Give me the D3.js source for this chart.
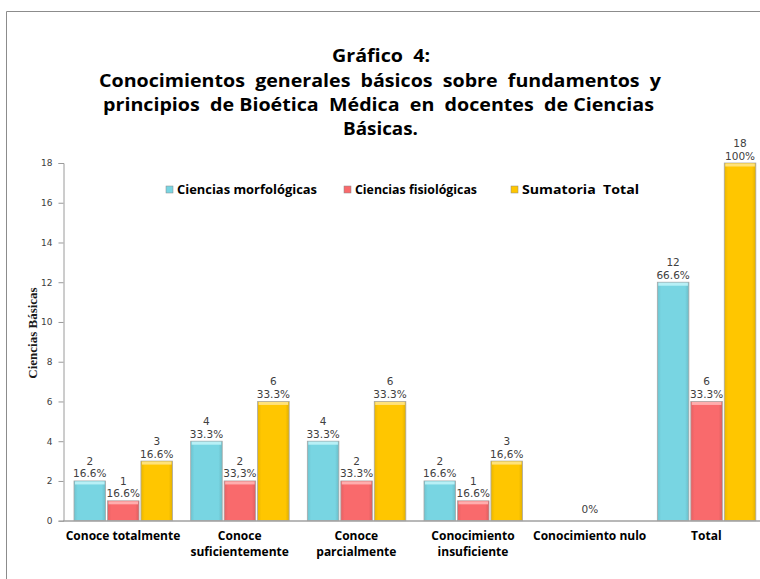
<!DOCTYPE html>
<html><head><meta charset="utf-8">
<script src="https://cdn.jsdelivr.net/npm/d3@7"></script>
<style>body{margin:0;background:#fff}svg{display:block}</style>
</head><body>
<script>
const categories = [["Conoce totalmente"],["Conoce","suficientemente"],["Conoce","parcialmente"],["Conocimiento","insuficiente"],["Conocimiento nulo"],["Total"]];
const seriesNames = ["Ciencias morfológicas","Ciencias fisiológicas","Sumatoria  Total"];
const morfologicas = [2,4,4,2,0,12];
const fisiologicas = [1,2,2,1,0,6];
const sumatoria = [3,6,6,3,0,18];
const morfPct = ["16.6%","33.3%","33.3%","16.6%","","66.6%"];
const fisioPct = ["16.6%","33,3%","33.3%","16.6%","0%","33.3%"];
const sumPct = ["16.6%","33.3%","33.3%","16,6%","","100%"];
const yTicks = [0,2,4,6,8,10,12,14,16,18];
const titleLines = ["Gráfico  4:","Conocimientos  generales  básicos  sobre  fundamentos  y","principios  de Bioética  Médica  en  docentes  de Ciencias","Básicas."];

const colors = ["#78D5E2","#F96A6C","#FFC600"];
const highlights = ["#B8F0F6","#FFADAD","#FFE27A"];

const W=760,H=579;
const svg=d3.select("body").append("svg").attr("width",W).attr("height",H);
svg.append("rect").attr("width",W).attr("height",H).attr("fill","#fff");
// outer frame
svg.append("path").attr("d",`M6.5,${H}V11.5H${W}`).attr("fill","none").attr("stroke","#8c8c8c").attr("stroke-width",1);

// title
const tl=[{x:381,y:62,len:98},{x:380,y:87,len:562},{x:378.5,y:110.5,len:551},{x:380.5,y:135,len:75}];
svg.append("g").selectAll("text").data(titleLines).join("text")
  .attr("x",(d,i)=>tl[i].x).attr("y",(d,i)=>tl[i].y).attr("text-anchor","middle")
  .attr("textLength",(d,i)=>tl[i].len).attr("lengthAdjust","spacingAndGlyphs")
  .style("font-family","'Open Sans',sans-serif").style("font-weight","bold").style("font-size","17.5px")
  .attr("fill","#000").style("white-space","pre").text(d=>d);

const y=d3.scaleLinear().domain([0,18]).range([520.7,163]);
const x0=d3.scaleBand().domain(d3.range(categories.length)).range([63,763]).padding(0);
const x1=d3.scaleBand().domain(d3.range(3)).range([11,109.5]).paddingInner(0.057).paddingOuter(0);

// y axis
const yAxis=d3.axisLeft(y).tickValues(yTicks).tickSize(5).tickPadding(6);
const gy=svg.append("g").attr("transform","translate(63.5,0)").call(yAxis);
gy.select(".domain").attr("stroke","#9a9a9a");
gy.selectAll(".tick line").attr("stroke","#9a9a9a");
gy.selectAll(".tick text").style("font-family","'DejaVu Sans',Verdana,sans-serif").style("font-size","9px").attr("fill","#404040");

// y title
svg.append("text").attr("transform","translate(37,333) rotate(-90)").attr("text-anchor","middle")
  .style("font-family","'Liberation Serif','Times New Roman',serif").style("font-size","13px").style("font-weight","bold")
  .attr("fill","#1a1a1a").text("Ciencias Básicas");

// bars
const data=[morfologicas,fisiologicas,sumatoria];
const pcts=[morfPct,fisioPct,sumPct];
const defs=svg.append("defs");
colors.forEach((c,i)=>{
  const g=defs.append("linearGradient").attr("id","g"+i).attr("x1","0").attr("x2","1").attr("y1","0").attr("y2","0");
  g.append("stop").attr("offset","0").attr("stop-color",d3.color(c).darker(0.25));
  g.append("stop").attr("offset","0.12").attr("stop-color",c);
  g.append("stop").attr("offset","0.88").attr("stop-color",c);
  g.append("stop").attr("offset","1").attr("stop-color",d3.color(c).darker(0.35));
});
const groups=svg.append("g").selectAll("g").data(categories).join("g")
  .attr("transform",(d,i)=>`translate(${x0(i)},0)`);
groups.each(function(cat,ci){
  const g=d3.select(this);
  for(let s=0;s<3;s++){
    const v=data[s][ci];
    const bx=x1(s), bw=x1.bandwidth();
    if(v>0){
      g.append("rect").attr("x",bx).attr("y",y(v)).attr("width",bw).attr("height",y(0)-y(v))
        .attr("fill",`url(#g${s})`).attr("stroke","#a8a8a8").attr("stroke-width",0.8);
      g.append("rect").attr("x",bx+1).attr("y",y(v)+0.5).attr("width",bw-2).attr("height",3)
        .attr("fill",highlights[s]);
      g.append("text").attr("x",bx+bw/2).attr("y",y(v)-16).attr("text-anchor","middle")
        .style("font-family","'DejaVu Sans',Verdana,sans-serif").style("font-size","10.5px").attr("fill","#404040").text(v);
    }
    if(pcts[s][ci]){
      g.append("text").attr("x",bx+bw/2).attr("y",y(v)-(v>0?3.5:8)).attr("text-anchor","middle")
        .style("font-family","'DejaVu Sans',Verdana,sans-serif").style("font-size","10.5px").attr("fill","#404040").text(pcts[s][ci]);
    }
  }
});

// x axis line
svg.append("line").attr("x1",63).attr("x2",W).attr("y1",521).attr("y2",521).attr("stroke","#a0a0a0").attr("stroke-width",1.5);

// category labels (one text per line)
const labelLines=[];
categories.forEach((c,i)=>c.forEach((t,j)=>labelLines.push({i,j,t})));
svg.append("g").selectAll("text").data(labelLines).join("text")
  .attr("x",d=>x0(d.i)+60).attr("y",d=>540+d.j*16).attr("text-anchor","middle")
  .style("font-family","'Open Sans',sans-serif").style("font-weight","bold").style("font-size","12px").attr("fill","#000")
  .text(d=>d.t);

// legend
const lx=[166,344,511];
const ll=[140,122,117];
const lg=svg.append("g").selectAll("g").data(seriesNames).join("g").attr("transform",(d,i)=>`translate(${lx[i]},190)`);
lg.append("rect").attr("x",0).attr("y",-4).attr("width",7).attr("height",7).attr("fill",(d,i)=>colors[i]).attr("stroke","#888").attr("stroke-width",0.5);
lg.append("text").attr("x",11).attr("y",4).attr("textLength",(d,i)=>ll[i]).attr("lengthAdjust","spacingAndGlyphs")
  .style("font-family","'Open Sans',sans-serif").style("font-weight","bold").style("font-size","12px")
  .style("white-space","pre").attr("fill","#000").text(d=>d);
</script>
</body></html>
